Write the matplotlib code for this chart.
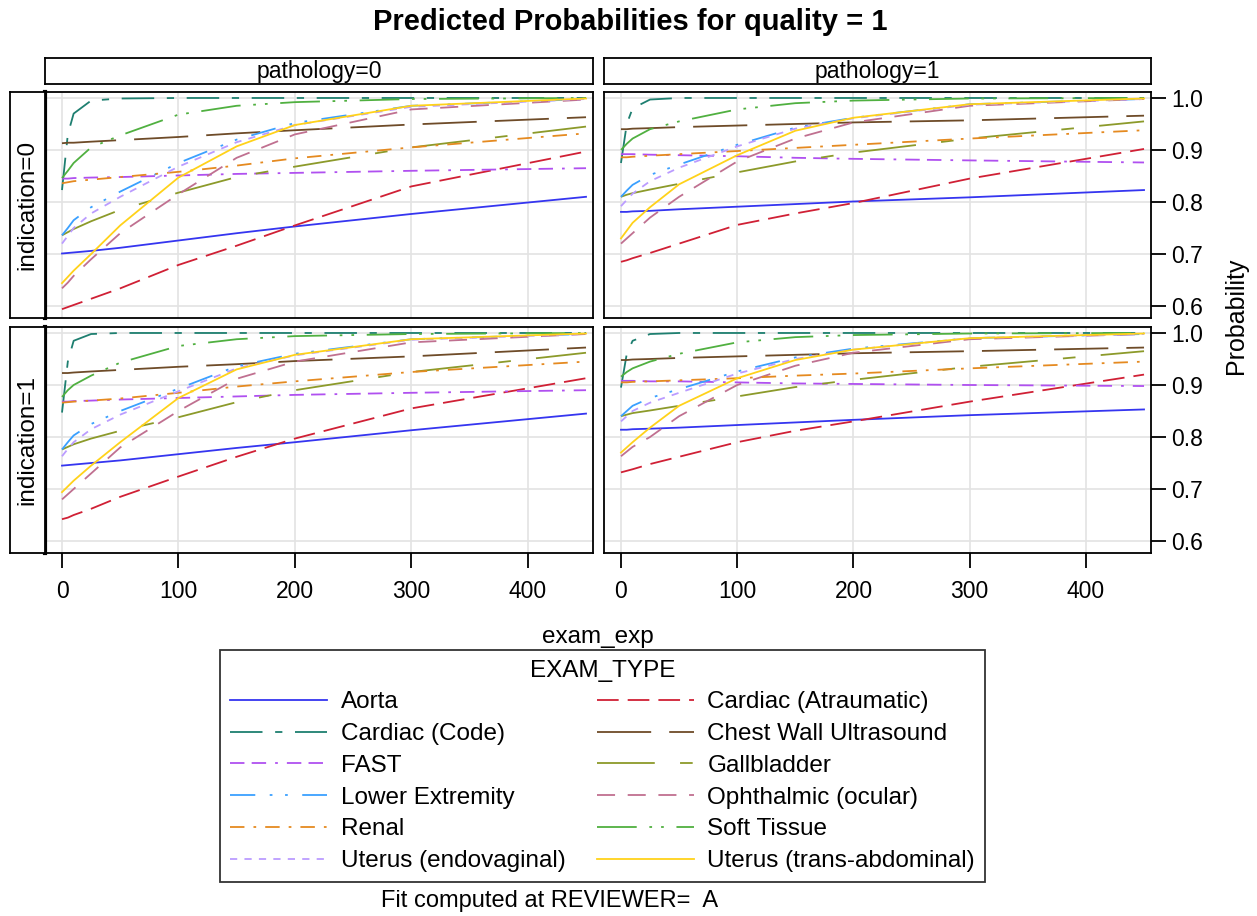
import numpy as np
import matplotlib.pyplot as plt

plt.rcParams['font.family'] = ['Liberation Sans', 'DejaVu Sans']

# x positions
exam_exp = [0, 5, 10, 25, 50, 100, 150, 200, 300, 450]

exam_types = ["Aorta", "Cardiac (Atraumatic)", "Cardiac (Code)",
              "Chest Wall Ultrasound", "FAST", "Gallbladder",
              "Lower Extremity", "Ophthalmic (ocular)", "Renal",
              "Soft Tissue", "Uterus (endovaginal)", "Uterus (trans-abdominal)"]

# pathology=0, indication=0
prob_p0_i0 = {
    "Aorta":                    [0.701, 0.702, 0.703, 0.706, 0.712, 0.726, 0.740, 0.753, 0.777, 0.810],
    "Cardiac (Atraumatic)":     [0.594, 0.598, 0.602, 0.614, 0.634, 0.679, 0.716, 0.755, 0.830, 0.897],
    "Cardiac (Code)":           [0.823, 0.930, 0.970, 0.995, 0.999, 1.000, 1.000, 1.000, 1.000, 1.000],
    "Chest Wall Ultrasound":    [0.913, 0.914, 0.914, 0.916, 0.919, 0.925, 0.932, 0.938, 0.949, 0.963],
    "FAST":                     [0.845, 0.845, 0.846, 0.847, 0.848, 0.851, 0.854, 0.856, 0.860, 0.865],
    "Gallbladder":              [0.736, 0.742, 0.748, 0.763, 0.785, 0.818, 0.848, 0.868, 0.905, 0.945],
    "Lower Extremity":          [0.736, 0.750, 0.765, 0.790, 0.820, 0.875, 0.920, 0.952, 0.985, 0.998],
    "Ophthalmic (ocular)":      [0.634, 0.645, 0.658, 0.690, 0.740, 0.815, 0.885, 0.930, 0.978, 0.997],
    "Renal":                    [0.836, 0.838, 0.840, 0.843, 0.848, 0.858, 0.870, 0.884, 0.905, 0.932],
    "Soft Tissue":              [0.846, 0.860, 0.875, 0.905, 0.928, 0.968, 0.985, 0.992, 0.998, 1.000],
    "Uterus (endovaginal)":     [0.720, 0.735, 0.750, 0.778, 0.810, 0.868, 0.915, 0.948, 0.983, 0.998],
    "Uterus (trans-abdominal)": [0.644, 0.656, 0.668, 0.700, 0.755, 0.847, 0.907, 0.948, 0.985, 0.999],
}

# pathology=1, indication=0
prob_p1_i0 = {
    "Aorta":                    [0.781, 0.781, 0.782, 0.783, 0.786, 0.791, 0.796, 0.801, 0.809, 0.823],
    "Cardiac (Atraumatic)":     [0.685, 0.688, 0.692, 0.702, 0.720, 0.756, 0.778, 0.798, 0.845, 0.902],
    "Cardiac (Code)":           [0.875, 0.950, 0.980, 0.997, 1.000, 1.000, 1.000, 1.000, 1.000, 1.000],
    "Chest Wall Ultrasound":    [0.940, 0.940, 0.941, 0.942, 0.944, 0.947, 0.950, 0.953, 0.957, 0.966],
    "FAST":                     [0.892, 0.892, 0.892, 0.891, 0.890, 0.888, 0.885, 0.883, 0.880, 0.876],
    "Gallbladder":              [0.810, 0.814, 0.817, 0.824, 0.835, 0.857, 0.878, 0.895, 0.922, 0.955],
    "Lower Extremity":          [0.810, 0.822, 0.833, 0.852, 0.872, 0.910, 0.943, 0.962, 0.988, 0.998],
    "Ophthalmic (ocular)":      [0.720, 0.730, 0.740, 0.770, 0.810, 0.878, 0.922, 0.953, 0.985, 0.998],
    "Renal":                    [0.886, 0.886, 0.887, 0.889, 0.892, 0.898, 0.904, 0.910, 0.922, 0.938],
    "Soft Tissue":              [0.900, 0.912, 0.922, 0.940, 0.955, 0.978, 0.990, 0.995, 0.999, 1.000],
    "Uterus (endovaginal)":     [0.792, 0.804, 0.816, 0.840, 0.866, 0.907, 0.941, 0.961, 0.987, 0.998],
    "Uterus (trans-abdominal)": [0.730, 0.745, 0.760, 0.790, 0.834, 0.890, 0.937, 0.962, 0.988, 0.999],
}

# pathology=0, indication=1
prob_p0_i1 = {
    "Aorta":                    [0.745, 0.746, 0.747, 0.750, 0.755, 0.767, 0.779, 0.790, 0.813, 0.845],
    "Cardiac (Atraumatic)":     [0.642, 0.645, 0.650, 0.662, 0.685, 0.724, 0.762, 0.797, 0.855, 0.913],
    "Cardiac (Code)":           [0.847, 0.945, 0.985, 0.998, 1.000, 1.000, 1.000, 1.000, 1.000, 1.000],
    "Chest Wall Ultrasound":    [0.923, 0.923, 0.924, 0.926, 0.929, 0.935, 0.940, 0.946, 0.955, 0.972],
    "FAST":                     [0.868, 0.868, 0.869, 0.870, 0.872, 0.875, 0.878, 0.881, 0.885, 0.890],
    "Gallbladder":              [0.776, 0.781, 0.786, 0.797, 0.812, 0.838, 0.867, 0.890, 0.925, 0.962],
    "Lower Extremity":          [0.776, 0.790, 0.803, 0.825, 0.850, 0.893, 0.936, 0.960, 0.988, 0.998],
    "Ophthalmic (ocular)":      [0.680, 0.690, 0.700, 0.730, 0.780, 0.850, 0.912, 0.945, 0.982, 0.998],
    "Renal":                    [0.866, 0.867, 0.868, 0.870, 0.874, 0.885, 0.897, 0.907, 0.925, 0.945],
    "Soft Tissue":              [0.877, 0.890, 0.900, 0.918, 0.943, 0.975, 0.988, 0.994, 0.998, 1.000],
    "Uterus (endovaginal)":     [0.763, 0.777, 0.790, 0.815, 0.843, 0.888, 0.932, 0.957, 0.987, 0.998],
    "Uterus (trans-abdominal)": [0.694, 0.705, 0.716, 0.745, 0.790, 0.875, 0.930, 0.958, 0.988, 0.999],
}

# pathology=1, indication=1
prob_p1_i1 = {
    "Aorta":                    [0.814, 0.814, 0.815, 0.816, 0.818, 0.823, 0.828, 0.833, 0.842, 0.853],
    "Cardiac (Atraumatic)":     [0.732, 0.735, 0.738, 0.748, 0.762, 0.790, 0.812, 0.830, 0.868, 0.920],
    "Cardiac (Code)":           [0.895, 0.960, 0.985, 0.998, 1.000, 1.000, 1.000, 1.000, 1.000, 1.000],
    "Chest Wall Ultrasound":    [0.948, 0.948, 0.949, 0.950, 0.952, 0.955, 0.958, 0.961, 0.965, 0.972],
    "FAST":                     [0.908, 0.908, 0.908, 0.907, 0.907, 0.905, 0.903, 0.902, 0.900, 0.898],
    "Gallbladder":              [0.840, 0.843, 0.846, 0.851, 0.860, 0.878, 0.896, 0.910, 0.935, 0.965],
    "Lower Extremity":          [0.840, 0.850, 0.860, 0.875, 0.892, 0.926, 0.953, 0.970, 0.990, 0.998],
    "Ophthalmic (ocular)":      [0.763, 0.772, 0.781, 0.800, 0.840, 0.900, 0.937, 0.962, 0.988, 0.998],
    "Renal":                    [0.905, 0.905, 0.906, 0.907, 0.909, 0.913, 0.918, 0.922, 0.932, 0.945],
    "Soft Tissue":              [0.916, 0.925, 0.932, 0.945, 0.960, 0.982, 0.992, 0.996, 0.999, 1.000],
    "Uterus (endovaginal)":     [0.830, 0.840, 0.850, 0.866, 0.885, 0.922, 0.950, 0.968, 0.990, 0.998],
    "Uterus (trans-abdominal)": [0.770, 0.780, 0.790, 0.818, 0.860, 0.913, 0.948, 0.968, 0.990, 0.999],
}

# line styles (colour, dash pattern)
styles = {
    "Aorta":                    ("#3535F0", None),
    "Cardiac (Atraumatic)":     ("#D02035", (12, 5)),
    "Cardiac (Code)":           ("#1E7F70", (18, 7, 4, 7)),
    "Chest Wall Ultrasound":    ("#6E4B28", (30, 10)),
    "FAST":                     ("#B050F0", (8, 4, 8, 5, 1.5, 5)),
    "Gallbladder":              ("#8C9A2A", (32, 14, 7, 14)),
    "Lower Extremity":          ("#3AA0FF", (14, 8, 1.5, 7, 1.5, 8)),
    "Ophthalmic (ocular)":      ("#C07090", (10, 7)),
    "Renal":                    ("#E58A20", (8, 5, 1.5, 5)),
    "Soft Tissue":              ("#50B040", (22, 7, 1.5, 5, 1.5, 7)),
    "Uterus (endovaginal)":     ("#BB9CFF", (4, 4)),
    "Uterus (trans-abdominal)": ("#FFD21A", None),
}

W, H = 1257, 916
fig = plt.figure(figsize=(W / 100, H / 100), dpi=100)


def fx(px):
    return px / W


def fy(py):
    return 1 - py / H


cols_px = [(45, 593), (604, 1151)]
rows_px = [(92, 318), (327, 553)]
panels = [[prob_p0_i0, prob_p1_i0], [prob_p0_i1, prob_p1_i1]]

handles = {}
for r, (top, bot) in enumerate(rows_px):
    for c, (lft, rgt) in enumerate(cols_px):
        ax = fig.add_axes([fx(lft), fy(bot), fx(rgt - lft), (bot - top) / H])
        data = panels[r][c]
        for name in exam_types:
            color, dash = styles[name]
            ln, = ax.plot(exam_exp, data[name], color=color, lw=1.3, label=name)
            if dash is not None:
                ln.set_dashes(dash)
            handles[name] = ln
        ax.set_xlim(-14.6, 456)
        ax.set_ylim(0.577, 1.0115)
        ax.set_xticks([0, 100, 200, 300, 400])
        ax.set_yticks([0.6, 0.7, 0.8, 0.9, 1.0])
        ax.grid(True, color="#E3E3E3", lw=1.2)
        ax.set_axisbelow(True)
        for sp in ax.spines.values():
            sp.set_linewidth(1.3)
        ax.tick_params(axis="both", labelsize=16.5, length=10.5, width=1.3,
                       direction="out", pad=4)
        ax.tick_params(axis="x", pad=9)
        ax.yaxis.set_ticks_position("right")
        ax.yaxis.set_major_formatter(plt.FormatStrFormatter("%.1f"))
        if c == 0:
            ax.spines["left"].set_linewidth(3)
            ax.tick_params(axis="y", right=False, labelright=False)
        if r == 0:
            ax.tick_params(axis="x", bottom=False, labelbottom=False)

# column header strips
for c, (lft, rgt) in enumerate(cols_px):
    sax = fig.add_axes([fx(lft), fy(84), fx(rgt - lft), 26 / H])
    sax.set_xticks([])
    sax.set_yticks([])
    for sp in sax.spines.values():
        sp.set_linewidth(1.3)
    sax.text(0.5, 0.47, "pathology=%d" % c, ha="center", va="center",
             fontsize=16.5, transform=sax.transAxes)

# row header strips
for r, (top, bot) in enumerate(rows_px):
    sax = fig.add_axes([fx(10), fy(bot), fx(35), (bot - top) / H])
    sax.set_xticks([])
    sax.set_yticks([])
    for sp in sax.spines.values():
        sp.set_linewidth(1.3)
    sax.text(0.5, 0.5, "indication=%d" % r, ha="center", va="center",
             rotation=90, fontsize=17.5, transform=sax.transAxes)

fig.text(fx(630), fy(22), "Predicted Probabilities for quality = 1",
         ha="center", va="center", fontsize=21, fontweight="bold")
fig.text(fx(1236), fy(316), "Probability", ha="center", va="center",
         rotation=90, fontsize=18)
fig.text(fx(598), fy(637), "exam_exp", ha="center", va="center", fontsize=17.5)
fig.text(fx(550), fy(901), "Fit computed at REVIEWER=  A", ha="center",
         va="center", fontsize=17)

order = exam_types[0::2] + exam_types[1::2]
leg = fig.legend([handles[n] for n in order], order, ncol=2,
                 loc="upper center", bbox_to_anchor=(fx(602.5), fy(650)),
                 fontsize=17.5, title="EXAM_TYPE", title_fontsize=17.5,
                 frameon=True, fancybox=False, edgecolor="black",
                 handlelength=4.0, handletextpad=0.55, columnspacing=1.3,
                 labelspacing=0.4, borderpad=0.4, borderaxespad=0)
leg.get_frame().set_linewidth(1.3)

fig.savefig("out.png", dpi=100)
